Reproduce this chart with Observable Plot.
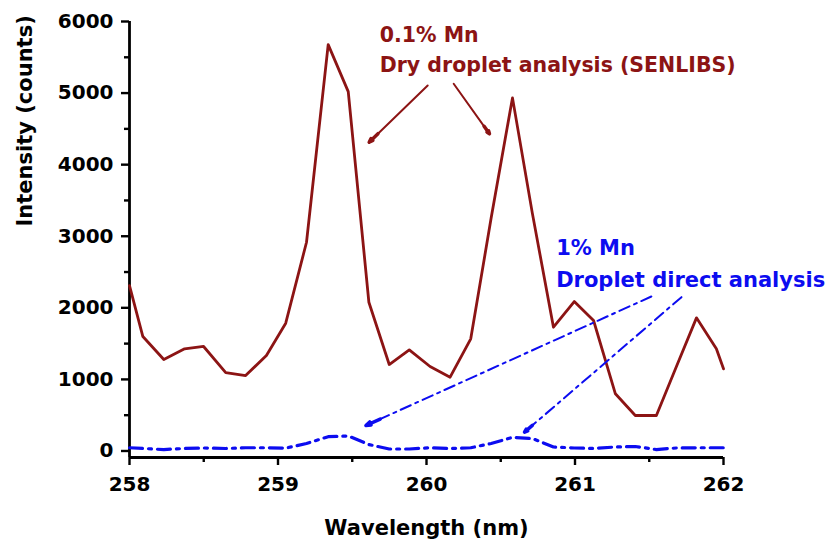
<!DOCTYPE html>
<html>
<head>
<meta charset="utf-8">
<script src="https://cdn.jsdelivr.net/npm/d3@7"></script>
<script src="https://cdn.jsdelivr.net/npm/@observablehq/plot@0.6"></script>
<style>
  html, body { margin: 0; padding: 0; background: #fff; }
</style>
</head>
<body>
<div id="chart"></div>
<script>
// Wavelength (nm) sampling points
const wavelength = [258.000, 258.090, 258.231, 258.371, 258.499, 258.648, 258.782, 258.922, 259.052, 259.192,
                    259.338, 259.473, 259.612, 259.749, 259.884, 260.024, 260.159, 260.298, 260.435, 260.579,
                    260.712, 260.855, 260.995, 261.125, 261.272, 261.406, 261.548, 261.683, 261.818, 261.952, 262.000];
// 0.1% Mn, dry droplet analysis (SENLIBS)
const senlibs = [2311, 1599, 1278, 1427, 1460, 1096, 1054, 1334, 1785, 2916,
                 5677, 5021, 2078, 1208, 1413, 1180, 1031, 1567, 3250, 4933,
                 3330, 1729, 2088, 1823, 799, 496, 496, 1180, 1860, 1427, 1148];
// 1% Mn, droplet direct analysis
const direct = [45, 35, 20, 35, 42, 35, 45, 45, 40, 105,
                200, 210, 90, 28, 28, 45, 35, 45, 105, 190,
                175, 56, 42, 35, 56, 63, 20, 42, 45, 45, 45];

const xDomain = [258, 262];
const yDomain = [-91, 6000];
const xTicks = [258, 259, 260, 261, 262];
const xMinor = [258.5, 259.5, 260.5, 261.5];
const yTicks = [0, 1000, 2000, 3000, 4000, 5000, 6000];
const yMinor = [500, 1500, 2500, 3500, 4500, 5500];

// annotation arrows (data units)
const redArrows = [
  {x1: 260.008, y1: 5106, x2: 259.614, y2: 4314},
  {x1: 260.183, y1: 5130, x2: 260.424, y2: 4431}
];
const blueArrows = [
  {x1: 261.514, y1: 2158, x2: 259.592, y2: 356},
  {x1: 261.717, y1: 2149, x2: 260.660, y2: 263}
];
const redLabels = [
  {x: 259.685, y: 5805, text: "0.1% Mn"},
  {x: 259.685, y: 5386, text: "Dry droplet analysis (SENLIBS)"}
];
const blueLabels = [
  {x: 260.873, y: 2836, text: "1% Mn"},
  {x: 260.873, y: 2382, text: "Droplet direct analysis"}
];

const RED = "#8c1414";
const BLUE = "#0c0cf0";
const FONT = "DejaVu Sans";

const rows = wavelength.map((w, i) => ({w, senlibs: senlibs[i], direct: direct[i]}));
// short head segments at the tip of each arrow, so heads are drawn solid
const headOf = (a, f) => ({x1: a.x2 + (a.x1 - a.x2) * f, y1: a.y2 + (a.y1 - a.y2) * f, x2: a.x2, y2: a.y2});
const redHeads = redArrows.map(a => headOf(a, 0.15));
const blueHeads = blueArrows.map(a => headOf(a, 0.05));

const chart = Plot.plot({
  width: 840,
  height: 550,
  marginLeft: 129,
  marginRight: 117,
  marginTop: 21,
  marginBottom: 93,
  style: {fontFamily: FONT, fontWeight: "bold", color: "#000", background: "#fff", overflow: "visible"},
  x: {domain: xDomain, axis: null},
  y: {domain: yDomain, axis: null},
  marks: [
    Plot.axisX({ticks: xMinor, tickSize: 5, tickFormat: () => "", strokeWidth: 2.4, label: null}),
    Plot.axisY({ticks: yMinor, tickSize: 5, tickFormat: () => "", strokeWidth: 2.4, label: null}),
    Plot.axisX({ticks: xTicks, tickSize: 8, tickPadding: 11, tickFormat: d => String(d), strokeWidth: 2.4,
                fontSize: 20, fontWeight: "bold", fontFamily: FONT, label: null}),
    Plot.axisY({ticks: yTicks, tickSize: 8, tickPadding: 8, tickFormat: d => String(d), strokeWidth: 2.4,
                fontSize: 20, fontWeight: "bold", fontFamily: FONT, label: null}),
    Plot.ruleX([xDomain[0]], {stroke: "#000", strokeWidth: 2.8}),
    Plot.ruleY([yDomain[0]], {stroke: "#000", strokeWidth: 2.8}),
    Plot.line(rows, {x: "w", y: "direct", stroke: BLUE, strokeWidth: 3.2, strokeDasharray: "13,6,3,6", curve: "linear"}),
    Plot.line(rows, {x: "w", y: "senlibs", stroke: RED, strokeWidth: 2.8, curve: "linear"}),
    Plot.arrow(redArrows, {x1: "x1", y1: "y1", x2: "x2", y2: "y2", stroke: RED, strokeWidth: 2, headLength: 0}),
    Plot.arrow(redHeads, {x1: "x1", y1: "y1", x2: "x2", y2: "y2", stroke: RED, strokeWidth: 3.5, headLength: 13, headAngle: 38}),
    Plot.arrow(blueArrows, {x1: "x1", y1: "y1", x2: "x2", y2: "y2", stroke: BLUE, strokeWidth: 2, headLength: 0, strokeDasharray: "11,5,3,5"}),
    Plot.arrow(blueHeads, {x1: "x1", y1: "y1", x2: "x2", y2: "y2", stroke: BLUE, strokeWidth: 3.5, headLength: 13, headAngle: 38}),
    Plot.text(redLabels, {x: "x", y: "y", text: "text", fill: RED, textAnchor: "start", fontSize: 20.5, fontWeight: "bold", fontFamily: FONT}),
    Plot.text(blueLabels, {x: "x", y: "y", text: "text", fill: BLUE, textAnchor: "start", fontSize: 21, fontWeight: "bold", fontFamily: FONT}),
    Plot.text(["Wavelength (nm)"], {frameAnchor: "bottom", dy: 77, fontSize: 21, fontWeight: "bold", fontFamily: FONT, fill: "#000"}),
    Plot.text(["Intensity (counts)"], {frameAnchor: "left", rotate: -90, dx: -104, dy: -13, fontSize: 21, fontWeight: "bold", fontFamily: FONT, fill: "#000"})
  ]
});
document.getElementById("chart").appendChild(chart);
</script>
</body>
</html>
